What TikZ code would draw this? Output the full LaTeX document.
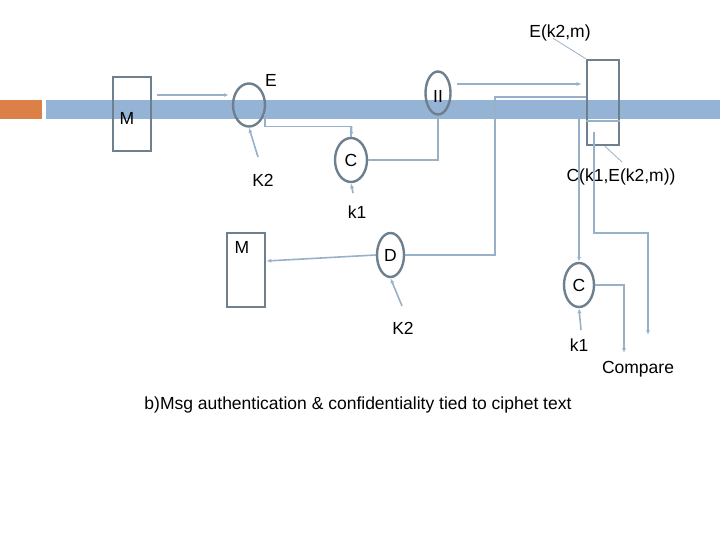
\documentclass[tikz,border=0pt]{standalone}
\usepackage{fontspec}
\setmainfont{Liberation Sans}
\usetikzlibrary{arrows.meta,shapes.geometric,calc}
\definecolor{barblue}{RGB}{149,179,213}
\definecolor{barorange}{RGB}{221,128,71}
\definecolor{outl}{RGB}{110,127,142}
\definecolor{conncol}{RGB}{152,177,200}
\tikzset{
  lbl/.style={font=\fontsize{17.5}{20}\selectfont, inner sep=0pt},
  boxnode/.style={draw=outl, line width=2.6pt, rectangle, inner sep=0pt},
  ell/.style={draw=outl, line width=2.4pt, ellipse, inner sep=0pt, font=\fontsize{17.5}{20}\selectfont},
  conn/.style={draw=conncol, line width=1.6pt},
  arr/.style={conn, -{Latex[length=5pt,width=4pt]}},
  lead/.style={draw=conncol, line width=0.8pt}
}
\begin{document}
\begin{tikzpicture}[x=1pt,y=-1pt]
\useasboundingbox (0,0) rectangle (720,540);
% bars
\fill[barorange] (0,100) rectangle (42,119);
\fill[barblue] (46,100) rectangle (720,119);
% nodes
\node[boxnode, minimum width=38pt, minimum height=74pt] (m1) at (132,114) {};
\node[lbl] (m1l) at (127,118) {M};
\node[ell, minimum width=32pt, minimum height=43pt] (e) at (249,105) {};
\node[lbl] (el) at (271,80) {E};
\node[ell, minimum width=32pt, minimum height=44pt] (c) at (351,160) {C};
\node[ell, minimum width=25pt, minimum height=43pt] (ii) at (438,93) {};
\node[lbl] (iil) at (438,96) {II};
\node[boxnode, minimum width=32pt, minimum height=85pt] (bx) at (603,102.5) {};
\node[lbl] (ekm) at (560,33) {E(k2,m)};
\node[lbl] (ckekm) at (621,177) {C(k1,E(k2,m))};
\node[lbl] (k2a) at (263,180) {K2};
\node[lbl] (k1a) at (357,212) {k1};
\node[boxnode, minimum width=38pt, minimum height=74pt] (m2) at (246,270) {};
\node[lbl] (m2l) at (242,247) {M};
\node[ell, minimum width=27pt, minimum height=44pt] (d) at (390.5,255) {D};
\node[ell, minimum width=30pt, minimum height=44pt] (c2) at (579,285) {C};
\node[lbl] (k2b) at (403,328) {K2};
\node[lbl] (k1b) at (579,345) {k1};
\node[lbl] (cmp) at (638,369) {Compare};
\node[lbl] (cap) at (358,405) {b)Msg authentication \& confidentiality tied to ciphet text};
% split line inside right box
\draw[lead, line width=1.2pt] (bx.west |- 0,121) -- (bx.east |- 0,121);
% connectors
\draw[arr] ([xshift=5pt,yshift=19pt]m1.east) -- ([xshift=-3pt,yshift=10pt]e.west);
\coordinate (k2aend) at (258,157);
\draw[arr] (k2aend) -- (e.south);
\draw[conn] (e.-30) -- ++(0,12.5) -| (c.north);
\draw[arr] ($(e.-30)+(87,12.5)$) -- (c.north);
\coordinate (k1aend) at (353,193);
\draw[arr] (k1aend) -- (c.south);
\draw[conn] (ii.south) |- (c.east);
\draw[arr] ([xshift=5pt,yshift=9pt]ii.east) -- ([xshift=-4pt]bx.west |- 0,84);
\draw[conn] (d.east) -- (495,255) |- (bx.west |- 0,97);
\draw[arr] (d.west) -- ([yshift=9pt]m2.east);
\coordinate (k2bend) at (402,306);
\draw[arr] (k2bend) -- (d.south);
\draw[arr] (579,118) -- (c2.north);
\coordinate (k1bend) at (581,330);
\draw[arr] (k1bend) -- (c2.south);
\draw[arr] (594,132) |- (648,233) -- (648,335);
\draw[arr] (c2.east) -| (624,353);
\draw[lead] (ekm.south west)+(24,-3) -- (bx.north west);
\draw[lead] ([xshift=2pt]bx.south) -- (622,162);
\end{tikzpicture}
\end{document}
